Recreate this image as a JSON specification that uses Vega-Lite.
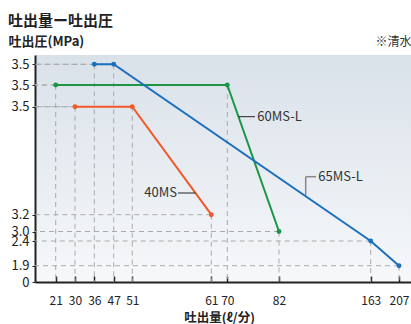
{
  "$schema": "https://vega.github.io/schema/vega-lite/v6.json",
  "width": 376,
  "height": 227,
  "autosize": {"type": "none"},
  "padding": {"left": 35, "top": 55, "right": 0, "bottom": 42},
  "background": "white",
  "title": {"text": "吐出量ー吐出圧", "anchor": "start", "frame": "group", "dx": -27, "offset": 6, "fontSize": 15, "fontWeight": "bold", "color": "#222"},
  "config": {
    "font": "Noto Sans CJK JP",
    "view": {"stroke": null, "fill": {"gradient": "linear", "x1": 0, "y1": 0, "x2": 0, "y2": 1, "stops": [{"offset": 0, "color": "#d9e1e9"}, {"offset": 1, "color": "#f6f8fa"}]}}
  },
  "data": {"values": [
    {"series": "65MS-L", "flow": 36, "pressure": 3.5},
    {"series": "65MS-L", "flow": 47, "pressure": 3.5},
    {"series": "65MS-L", "flow": 163, "pressure": 2.4, "label": "65MS-L"},
    {"series": "65MS-L", "flow": 207, "pressure": 1.9},
    {"series": "60MS-L", "flow": 21, "pressure": 3.5},
    {"series": "60MS-L", "flow": 70, "pressure": 3.5, "label": "60MS-L"},
    {"series": "60MS-L", "flow": 82, "pressure": 3.0},
    {"series": "40MS", "flow": 30, "pressure": 3.5},
    {"series": "40MS", "flow": 51, "pressure": 3.5},
    {"series": "40MS", "flow": 61, "pressure": 3.2, "label": "40MS"}
  ]},
  "encoding": {
    "x": {
      "field": "flow", "type": "quantitative",
      "scale": {"domain": [0, 21, 30, 36, 47, 51, 61, 70, 82, 163, 207, 220], "range": [0, 20.7, 40, 59.3, 78.7, 97.3, 176.3, 192.3, 244, 335.7, 364, 376], "nice": false, "zero": false},
      "axis": {"values": [21, 30, 36, 47, 51, 61, 70, 82, 163, 207], "grid": false, "domainColor": "#222", "domainWidth": 2, "tickColor": "#222", "tickWidth": 1.5, "tickSize": -6, "labelPadding": 19, "labelFontSize": 12, "labelColor": "#222", "labelOverlap": false, "labelFlush": false, "title": "吐出量(ℓ/分)", "titleX": 184, "titleY": 35, "titleBaseline": "middle", "titleAlign": "center", "titleFontSize": 12.5, "titleFontWeight": "bold", "titleColor": "#222"}
    }
  },
  "layer": [
    {
      "transform": [{"filter": "datum.series === '40MS'"}],
      "encoding": {"y": {"field": "pressure", "type": "quantitative",
        "scale": {"domain": [0, 1.9, 2.4, 3.0, 3.2, 3.5, 3.6], "range": [227, 210.7, 186, 176.5, 159.7, 51.7, 0], "nice": false, "zero": false},
        "axis": {"orient": "left", "values": [0, 1.9, 2.4, 3.0, 3.2, 3.5], "labelExpr": "datum.value == 0 ? '0' : format(datum.value, '.1f')", "grid": false, "domainColor": "#222", "domainWidth": 2, "tickColor": "#222", "tickSize": 3, "labelPadding": 3, "labelFontSize": 13, "labelColor": "#222", "labelOverlap": false, "title": "吐出圧(MPa)", "titleAngle": 0, "titleX": -27, "titleY": -14, "titleAlign": "left", "titleBaseline": "middle", "titleFontSize": 13, "titleFontWeight": "bold", "titleColor": "#222"}}},
      "layer": [
        {"mark": {"type": "rule", "color": "#aaa", "strokeWidth": 1, "strokeDash": [5, 4]}, "encoding": {"y2": {"datum": 0}}},
        {"mark": {"type": "rule", "color": "#aaa", "strokeWidth": 1, "strokeDash": [5, 4]}, "encoding": {"x2": {"datum": 0}}}
      ]
    },
    {
      "transform": [{"filter": "datum.series === '60MS-L'"}],
      "encoding": {"y": {"field": "pressure", "type": "quantitative",
        "scale": {"domain": [0, 1.9, 2.4, 3.0, 3.2, 3.5, 3.6], "range": [227, 210.7, 186, 176.5, 159.7, 30, 0], "nice": false, "zero": false},
        "axis": {"orient": "left", "values": [3.5], "labelExpr": "format(datum.value, '.1f')", "grid": false, "domain": false, "tickColor": "#222", "tickSize": 3, "labelPadding": 3, "labelFontSize": 13, "labelColor": "#222", "title": "※清水", "titleAngle": 0, "titleX": 376, "titleY": -14, "titleAlign": "right", "titleBaseline": "middle", "titleFontSize": 12, "titleFontWeight": "normal", "titleColor": "#333"}}},
      "layer": [
        {"mark": {"type": "rule", "color": "#aaa", "strokeWidth": 1, "strokeDash": [5, 4]}, "encoding": {"y2": {"datum": 0}}},
        {"mark": {"type": "rule", "color": "#aaa", "strokeWidth": 1, "strokeDash": [5, 4]}, "encoding": {"x2": {"datum": 0}}}
      ]
    },
    {
      "transform": [{"filter": "datum.series === '65MS-L'"}],
      "encoding": {"y": {"field": "pressure", "type": "quantitative",
        "scale": {"domain": [0, 1.9, 2.4, 3.0, 3.2, 3.5, 3.6], "range": [227, 210.7, 186, 176.5, 159.7, 9.3, 0], "nice": false, "zero": false},
        "axis": {"orient": "left", "values": [3.5], "labelExpr": "format(datum.value, '.1f')", "grid": false, "domain": false, "tickColor": "#222", "tickSize": 3, "labelPadding": 3, "labelFontSize": 13, "labelColor": "#222", "title": null}}},
      "layer": [
        {"mark": {"type": "rule", "color": "#aaa", "strokeWidth": 1, "strokeDash": [5, 4]}, "encoding": {"y2": {"datum": 0}}},
        {"mark": {"type": "rule", "color": "#aaa", "strokeWidth": 1, "strokeDash": [5, 4]}, "encoding": {"x2": {"datum": 0}}}
      ]
    },
    {
      "transform": [{"filter": "datum.series === '40MS'"}],
      "encoding": {"y": {"field": "pressure", "type": "quantitative",
        "scale": {"domain": [0, 1.9, 2.4, 3.0, 3.2, 3.5, 3.6], "range": [227, 210.7, 186, 176.5, 159.7, 51.7, 0], "nice": false, "zero": false}, "axis": null}},
      "layer": [
        {"mark": {"type": "line", "color": "#ef5a28", "strokeWidth": 2}},
        {"mark": {"type": "circle", "color": "#ef5a28", "size": 24, "opacity": 1}},
        {"transform": [{"filter": "isValid(datum.label)"}], "mark": {"type": "rule", "color": "#222", "strokeWidth": 1, "xOffset": -33.3, "x2Offset": -15.8, "yOffset": -21.7}, "encoding": {"x2": {"field": "flow"}}},
        {"transform": [{"filter": "isValid(datum.label)"}], "mark": {"type": "text", "align": "right", "baseline": "middle", "dx": -34.3, "dy": -21.7, "fontSize": 13, "color": "#333"}, "encoding": {"text": {"field": "label"}}}
      ]
    },
    {
      "transform": [{"filter": "datum.series === '60MS-L'"}],
      "encoding": {"y": {"field": "pressure", "type": "quantitative",
        "scale": {"domain": [0, 1.9, 2.4, 3.0, 3.2, 3.5, 3.6], "range": [227, 210.7, 186, 176.5, 159.7, 30, 0], "nice": false, "zero": false}, "axis": null}},
      "layer": [
        {"mark": {"type": "line", "color": "#1a9646", "strokeWidth": 2}},
        {"mark": {"type": "circle", "color": "#1a9646", "size": 24, "opacity": 1}},
        {"transform": [{"filter": "isValid(datum.label)"}], "mark": {"type": "rule", "color": "#222", "strokeWidth": 1, "xOffset": 11.2, "x2Offset": 27.7, "yOffset": 31.7}, "encoding": {"x2": {"field": "flow"}}},
        {"transform": [{"filter": "isValid(datum.label)"}], "mark": {"type": "text", "align": "left", "baseline": "middle", "dx": 30, "dy": 31.7, "fontSize": 13, "color": "#333"}, "encoding": {"text": {"field": "label"}}}
      ]
    },
    {
      "transform": [{"filter": "datum.series === '65MS-L'"}],
      "encoding": {"y": {"field": "pressure", "type": "quantitative",
        "scale": {"domain": [0, 1.9, 2.4, 3.0, 3.2, 3.5, 3.6], "range": [227, 210.7, 186, 176.5, 159.7, 9.3, 0], "nice": false, "zero": false}, "axis": null}},
      "layer": [
        {"mark": {"type": "line", "color": "#1b6fbd", "strokeWidth": 2}},
        {"mark": {"type": "circle", "color": "#1b6fbd", "size": 24, "opacity": 1}},
        {"transform": [{"filter": "isValid(datum.label)"}], "mark": {"type": "rule", "color": "#888", "strokeWidth": 1.5, "xOffset": -65, "x2Offset": -54.7, "yOffset": -64.3}, "encoding": {"x2": {"field": "flow"}}},
        {"transform": [{"filter": "isValid(datum.label)"}], "mark": {"type": "rule", "color": "#888", "strokeWidth": 1.5, "xOffset": -65, "yOffset": -64.3, "y2Offset": -46}, "encoding": {"y2": {"field": "pressure"}}},
        {"transform": [{"filter": "isValid(datum.label)"}], "mark": {"type": "text", "align": "left", "baseline": "middle", "dx": -52.4, "dy": -63.7, "fontSize": 13, "color": "#333"}, "encoding": {"text": {"field": "label"}}}
      ]
    }
  ],
  "resolve": {"scale": {"y": "independent"}, "axis": {"y": "independent"}}
}
